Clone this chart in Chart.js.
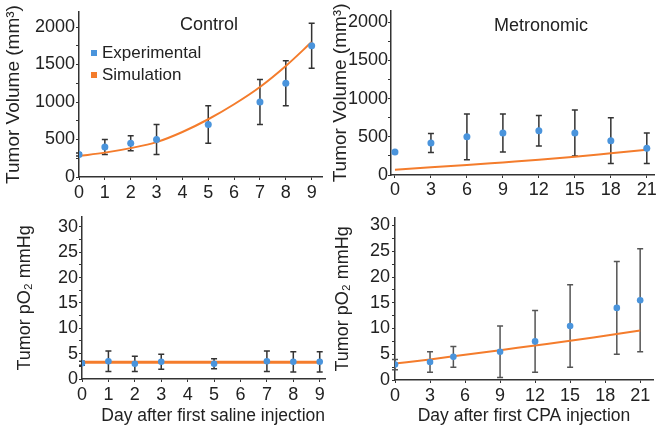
<!DOCTYPE html>
<html>
<head>
<meta charset="utf-8">
<script src="https://cdn.jsdelivr.net/npm/chart.js@4.4.1/dist/chart.umd.min.js"></script>
<style>
  html, body { margin: 0; padding: 0; background: #fff; }
  #wrap { position: relative; width: 658px; height: 428px; overflow: hidden; font-family: 'Liberation Sans', Arial, sans-serif; color: #222; }
  canvas { position: absolute; }
  .lbl { position: absolute; font-size: 18px; white-space: nowrap; line-height: 20px; }
  .sq { position: absolute; width: 6px; height: 6px; }
</style>
</head>
<body>
<div id="wrap">
  <canvas id="c1" width="329" height="210" style="left:0;top:0"></canvas>
  <canvas id="c2" width="329" height="210" style="left:329px;top:0"></canvas>
  <canvas id="c3" width="329" height="223" style="left:0;top:205px"></canvas>
  <canvas id="c4" width="329" height="223" style="left:329px;top:205px"></canvas>
  <div class="lbl" style="left:180px;top:14px">Control</div>
  <div class="lbl" style="left:494px;top:15px">Metronomic</div>
  <div class="sq" style="left:91px;top:50px;background:#4a94dc"></div>
  <div class="lbl" style="left:102px;top:43px;font-size:17px">Experimental</div>
  <div class="sq" style="left:91px;top:72px;background:#f47c2c"></div>
  <div class="lbl" style="left:102px;top:65px;font-size:17px">Simulation</div>
</div>
<script>
// tick labels
const ctrlDayTicks = [0, 1, 2, 3, 4, 5, 6, 7, 8, 9];
const metroDayTicks = [0, 3, 6, 9, 12, 15, 18, 21];
const volumeTicks = [0, 500, 1000, 1500, 2000];
const po2Ticks = [0, 5, 10, 15, 20, 25, 30];

// control - tumor volume
const ctrlDays = [0, 1, 2, 3, 5, 7, 8, 9];
const ctrlVolume = [300, 400, 450, 500, 700, 1000, 1250, 1750];
const ctrlVolumeErr = [20, 100, 100, 200, 250, 300, 300, 300];
const ctrlSimDays = [0, 1, 2, 3, 4, 5, 6, 7, 8, 9];
const ctrlSimVolume = [280, 325, 385, 465, 600, 770, 970, 1200, 1480, 1800];

// metronomic - tumor volume
const metroDays = [0, 3, 6, 9, 12, 15, 18, 21];
const metroVolume = [300, 420, 500, 550, 580, 550, 450, 350];
const metroVolumeErr = [0, 125, 300, 250, 200, 300, 300, 200];
const metroSimDays = [0, 3, 6, 9, 12, 15, 18, 21];
const metroSimVolume = [70, 100, 130, 165, 200, 240, 285, 330];

// control - pO2
const ctrlPo2 = [3.1, 3.5, 3.0, 3.4, 3.0, 3.5, 3.4, 3.4];
const ctrlPo2Err = [0.4, 2, 1.5, 1.5, 1, 2, 2, 2];
const ctrlSimPo2Days = [0, 9];
const ctrlSimPo2 = [3.3, 3.3];

// metronomic - pO2
const metroPo2Days = [0, 3, 5, 9, 12, 15, 19, 21];
const metroPo2 = [3.0, 3.5, 4.5, 5.5, 7.5, 10.5, 14, 15.5];
const metroPo2Err = [1, 2, 2, 5, 6, 8, 9, 10];
const metroSimPo2Days = [0, 3, 6, 9, 12, 15, 18, 21];
const metroSimPo2 = [3.2, 4.0, 4.9, 5.8, 6.7, 7.6, 8.6, 9.6];

const BLUE = '#4a94dc';
const ORANGE = '#f47c2c';
const AXIS = '#333';

Chart.defaults.font.family = "'Liberation Sans', Arial, sans-serif";
Chart.defaults.color = '#222';

// error bars drawn under the points
const errorBars = {
  id: 'errorBars',
  beforeDatasetsDraw(chart) {
    const ctx = chart.ctx;
    const xs = chart.scales.x, ys = chart.scales.y;
    chart.data.datasets.forEach(ds => {
      if (!ds.errors) return;
      ctx.save();
      ctx.strokeStyle = ds.errColor || AXIS;
      ctx.lineWidth = 1.5;
      ds.data.forEach((p, i) => {
        const e = ds.errors[i];
        if (!e) return;
        const x = xs.getPixelForValue(p.x);
        const y1 = ys.getPixelForValue(p.y - e);
        const y2 = ys.getPixelForValue(p.y + e);
        ctx.beginPath();
        ctx.moveTo(x, y1); ctx.lineTo(x, y2);
        ctx.moveTo(x - 3, y1); ctx.lineTo(x + 3, y1);
        ctx.moveTo(x - 3, y2); ctx.lineTo(x + 3, y2);
        ctx.stroke();
      });
      ctx.restore();
    });
  }
};

function pts(xs, ys) {
  return xs.map((x, i) => ({ x: x, y: ys[i] }));
}

// major ticks plus a minor mark halfway between
function withMinor(ticks) {
  const out = [];
  ticks.forEach((t, i) => {
    out.push({ value: t });
    if (i < ticks.length - 1) out.push({ value: (t + ticks[i + 1]) / 2 });
  });
  return out;
}

function makePanel(id, p) {
  new Chart(document.getElementById(id), {
    type: 'scatter',
    data: {
      datasets: [{
        data: pts(p.days, p.values),
        errors: p.errors,
        errColor: p.errColor,
        backgroundColor: BLUE,
        borderWidth: 0,
        pointRadius: p.pointRadius || 3.5
      }, {
        data: pts(p.simDays, p.simValues),
        showLine: true,
        borderColor: ORANGE,
        borderWidth: p.lineWidth || 2,
        pointRadius: 0,
        cubicInterpolationMode: 'monotone'
      }]
    },
    options: {
      responsive: false,
      animation: false,
      events: [],
      layout: { padding: { left: 0, top: p.padTop, right: p.padRight, bottom: 0 } },
      plugins: { legend: { display: false }, tooltip: { enabled: false } },
      scales: {
        x: {
          type: 'linear',
          min: p.xMin, max: p.xMax,
          afterBuildTicks: s => { s.ticks = p.xTicks.map(v => ({ value: v })); },
          afterFit: s => { s.height = p.xHeight; },
          ticks: { autoSkip: false, maxRotation: 0, padding: p.xPad, color: '#222', font: { size: 18 }, callback: v => String(v) },
          grid: { drawOnChartArea: false, drawTicks: true, tickLength: 3, color: AXIS, lineWidth: 1 },
          border: { display: true, color: AXIS, width: 1.5 },
          title: p.xTitle ? { display: true, text: p.xTitle, align: p.xAlign || 'center', font: { size: 17.5 }, color: '#222', padding: { top: 0, bottom: 1 } } : { display: false }
        },
        y: {
          min: 0, max: p.yMax,
          afterBuildTicks: s => { s.ticks = withMinor(p.yTicks); },
          afterFit: s => { s.width = p.yWidth; },
          ticks: {
            autoSkip: false, padding: p.yPad, color: '#222', font: { size: 18 },
            callback: v => p.yTicks.includes(v) ? String(v) : ''
          },
          grid: { drawOnChartArea: false, drawTicks: true, tickLength: 3, color: AXIS, lineWidth: 1 },
          border: { display: true, color: AXIS, width: 1.5 },
          title: { display: true, text: p.yTitle, font: { size: p.yTitleSize }, color: '#222', padding: { top: p.yTitlePad, bottom: 0 } }
        }
      }
    },
    plugins: [errorBars]
  });
}

makePanel('c1', {
  days: ctrlDays, values: ctrlVolume, errors: ctrlVolumeErr,
  simDays: ctrlSimDays, simValues: ctrlSimVolume,
  xMin: 0, xMax: 9.4, xTicks: ctrlDayTicks, xHeight: 33, xPad: 2,
  yMax: 2200, yTicks: volumeTicks, yWidth: 79, yPad: 1,
  yTitle: 'Tumor Volume (mm\u00b3)', yTitlePad: 2, yTitleSize: 19,
  padTop: 12, padRight: 7
});

makePanel('c2', {
  days: metroDays, values: metroVolume, errors: metroVolumeErr,
  simDays: metroSimDays, simValues: metroSimVolume,
  xMin: -0.33, xMax: 21.6, xTicks: metroDayTicks, xHeight: 35, xPad: 1,
  yMax: 2150, yTicks: volumeTicks, yWidth: 62, yPad: 0,
  yTitle: 'Tumor Volume (mm\u00b3)', yTitlePad: 0, yTitleSize: 19,
  padTop: 9, padRight: 3
});

makePanel('c3', {
  days: ctrlDays, values: ctrlPo2, errors: ctrlPo2Err,
  simDays: ctrlSimPo2Days, simValues: ctrlSimPo2, lineWidth: 3, pointRadius: 3.3,
  xMin: 0, xMax: 9.2, xTicks: ctrlDayTicks, xHeight: 49, xPad: 2,
  xTitle: 'Day after first saline injection', xAlign: 'end',
  yMax: 32, yTicks: po2Ticks, yWidth: 82, yPad: 1,
  yTitle: 'Tumor pO\u2082 mmHg', yTitlePad: 14, yTitleSize: 18,
  padTop: 4, padRight: 4
});

makePanel('c4', {
  days: metroPo2Days, values: metroPo2, errors: metroPo2Err, errColor: '#555',
  simDays: metroSimPo2Days, simValues: metroSimPo2, pointRadius: 3.3,
  xMin: 0, xMax: 22.1, xTicks: metroDayTicks, xHeight: 48, xPad: 2,
  xTitle: 'Day after first CPA injection',
  yMax: 31.5, yTicks: po2Ticks, yWidth: 66, yPad: 2,
  yTitle: 'Tumor pO\u2082 mmHg', yTitlePad: 3, yTitleSize: 18,
  padTop: 3.5, padRight: 5
});
</script>
</body>
</html>
